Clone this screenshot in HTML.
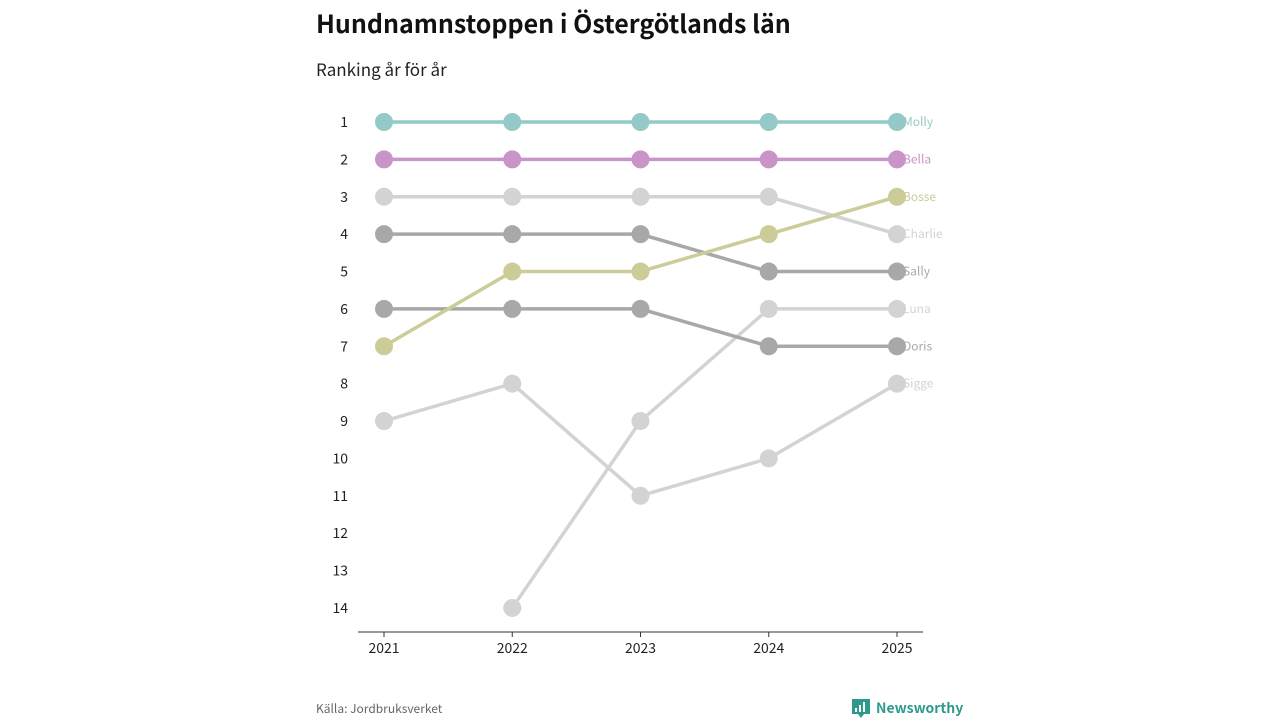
<!DOCTYPE html>
<html><head><meta charset="utf-8"><style>
body{margin:0;width:1280px;height:720px;background:#fff;font-family:"Noto Sans CJK JP","Liberation Sans",sans-serif;overflow:hidden}
svg text{font-family:"Noto Sans CJK JP","Liberation Sans",sans-serif}
</style></head><body>
<svg id="c" width="1280" height="720" xmlns="http://www.w3.org/2000/svg">
<text x="316" y="33" font-size="25" font-weight="bold" fill="#111">Hundnamnstoppen i Östergötlands län</text>
<text x="316" y="76" font-size="17" fill="#222">Ranking år för år</text>
<line x1="358" y1="632" x2="923" y2="632" stroke="#333" stroke-width="1"/>
<text x="316" y="713" font-size="12" fill="#666">Källa: Jordbruksverket</text>
<g>
<path d="M852 699h18v15h-6l-3 4-3-4h-6z" fill="#2e9a8e"/>
<rect x="855" y="708" width="2" height="4" fill="#fff"/><rect x="859" y="705" width="2" height="7" fill="#fff"/><rect x="863" y="702" width="2" height="10" fill="#fff"/>
<text x="876" y="713" font-size="14" font-weight="bold" fill="#2e9a8e">Newsworthy</text>
</g>
<g id="ticks"></g><g id="lines"></g>
</svg>
<script>
const years=[2021,2022,2023,2024,2025];
const names=["Sigge","Luna","Charlie","Doris","Sally","Bosse","Bella","Molly"];
const molly=[1,1,1,1,1];
const bella=[2,2,2,2,2];
const charlie=[3,3,3,3,4];
const sally=[4,4,4,5,5];
const bosse=[7,5,5,4,3];
const doris=[6,6,6,7,7];
const luna=[null,14,9,6,6];
const sigge=[9,8,11,10,8];
const rankTicks=[1,2,3,4,5,6,7,8,9,10,11,12,13,14];
const series={Sigge:sigge,Luna:luna,Charlie:charlie,Doris:doris,Sally:sally,Bosse:bosse,Bella:bella,Molly:molly};
const colors={Sigge:"#d3d3d3",Luna:"#d3d3d3",Charlie:"#d3d3d3",Doris:"#a8a8a8",Sally:"#a8a8a8",Bosse:"#cccc99",Bella:"#c994c7",Molly:"#93c9c6"};
const ns="http://www.w3.org/2000/svg";
const x=i=>384+i*128.25;
const y=r=>122+(r-1)*37.38;
const tg=document.getElementById('ticks'),lg=document.getElementById('lines');
function mk(tag,a,p){const e=document.createElementNS(ns,tag);for(const k in a)e.setAttribute(k,a[k]);p.appendChild(e);return e;}
rankTicks.forEach(r=>{const t=mk('text',{x:348,y:y(r)+5,'font-size':14,fill:'#222','text-anchor':'end'},tg);t.textContent=r;

});
years.forEach((yr,i)=>{mk('line',{x1:x(i),y1:632,x2:x(i),y2:637,stroke:'#333'},tg);
const t=mk('text',{x:x(i),y:653,'font-size':14,fill:'#222','text-anchor':'middle'},tg);t.textContent=yr;

});
names.forEach(n=>{const v=series[n],c=colors[n];
const g=mk('g',{},lg);


const pts=[];v.forEach((r,i)=>{if(r!=null)pts.push(x(i)+','+y(r));});
mk('polyline',{points:pts.join(' '),fill:'none',stroke:c,'stroke-width':3.5},g);
v.forEach((r,i)=>{if(r==null)return;const d=mk('circle',{cx:x(i),cy:y(r),r:9,fill:c},g);

});
const t=mk('text',{x:903,y:y(v[4])+4,'font-size':12,fill:c},g);t.textContent=n;

});
</script>
</body></html>
